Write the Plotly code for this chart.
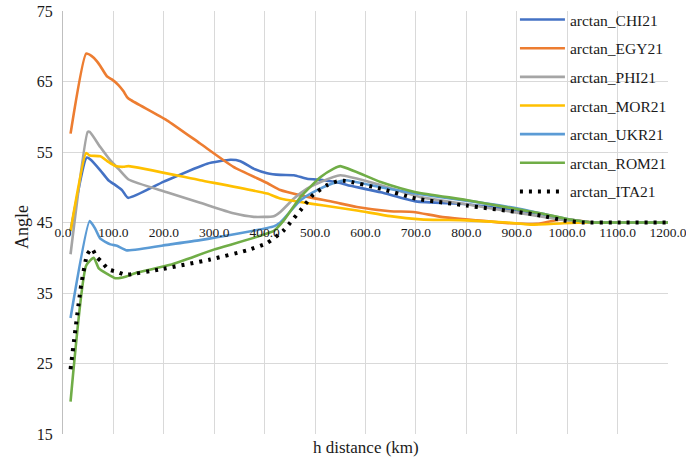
import plotly.graph_objects as go

# ---- data ----
CHI_x = [15, 47, 55, 74, 90, 104, 117, 129, 200, 286, 332, 352, 378, 405, 431, 458, 484, 517, 550, 570, 630, 700, 800, 900, 947, 1000, 1050, 1100, 1150, 1200]
CHI_y = [43.8, 54.2, 53.9, 52.4, 51.0, 50.3, 49.6, 48.5, 50.8, 53.35, 53.9, 53.7, 52.65, 52.0, 51.75, 51.7, 51.2, 51.0, 50.6, 50.2, 49.3, 48.0, 47.6, 46.7, 46.2, 45.4, 45.0, 45.0, 45.0, 45.0]

EGY_x = [15, 46, 57, 67, 74, 87, 97, 110, 120, 127, 134, 206, 272, 338, 405, 431, 471, 537, 583, 649, 695, 750, 821, 887, 940, 980, 1000, 1050, 1100, 1200]
EGY_y = [57.6, 68.95, 68.6, 67.9, 67.2, 65.75, 65.3, 64.5, 63.6, 62.8, 62.4, 59.5, 56.2, 52.9, 50.6, 49.6, 48.85, 47.9, 47.2, 46.6, 46.5, 45.8, 45.3, 44.9, 44.8, 45.35, 45.45, 45.0, 45.0, 45.0]

PHI_x = [15, 49, 53, 74, 94, 110, 130, 206, 272, 338, 378, 418, 431, 458, 484, 511, 550, 630, 709, 800, 900, 1000, 1050, 1100, 1200]
PHI_y = [40.5, 57.85, 57.85, 55.7, 53.8, 52.6, 51.1, 49.3, 47.8, 46.3, 45.8, 45.9, 46.5, 48.4, 49.8, 50.75, 51.7, 50.3, 48.6, 47.6, 46.4, 45.3, 45.0, 45.0, 45.0]

MOR_x = [15, 46, 53, 74, 90, 104, 120, 130, 272, 405, 431, 471, 517, 583, 649, 709, 800, 880, 927, 993, 1050, 1100, 1200]
MOR_y = [43.8, 54.85, 54.5, 54.4, 53.6, 53.0, 52.9, 53.0, 51.0, 49.1, 48.4, 47.9, 47.4, 46.7, 45.9, 45.45, 45.3, 45.0, 44.7, 44.9, 45.0, 45.0, 45.0]

UKR_x = [15, 53, 64, 74, 94, 107, 127, 213, 272, 418, 431, 471, 504, 537, 560, 630, 700, 800, 900, 947, 1000, 1050, 1100, 1200]
UKR_y = [31.45, 45.2, 44.1, 42.7, 41.9, 41.7, 41.05, 41.9, 42.5, 44.45, 45.0, 48.15, 49.6, 50.6, 51.0, 50.0, 49.1, 48.1, 47.0, 46.3, 45.5, 45.0, 45.0, 45.0]

ROM_x = [15, 46, 61, 71, 87, 104, 124, 147, 213, 299, 418, 438, 471, 511, 537, 550, 630, 700, 800, 900, 947, 1000, 1050, 1100, 1200]
ROM_y = [19.6, 38.9, 40.0, 38.5, 37.75, 37.1, 37.3, 37.9, 39.0, 41.15, 43.8, 45.3, 48.6, 51.45, 52.65, 53.0, 50.75, 49.3, 48.2, 46.9, 46.3, 45.5, 45.0, 45.0, 45.0]

ITA_x = [15, 36, 48, 57, 67, 77, 90, 107, 124, 193, 292, 365, 405, 428, 438, 451, 474, 497, 524, 544, 560, 630, 700, 800, 900, 947, 993, 1030, 1100, 1200]
ITA_y = [24.2, 36.1, 40.45, 41.3, 40.1, 39.4, 38.35, 38.0, 37.6, 38.35, 39.75, 41.05, 42.1, 43.3, 43.9, 45.0, 47.0, 49.0, 50.3, 50.85, 50.9, 49.8, 48.4, 47.4, 46.5, 46.0, 45.3, 45.0, 45.0, 45.0]

series = [
    ("arctan_CHI21", CHI_x, CHI_y, "#4472C4", "solid"),
    ("arctan_EGY21", EGY_x, EGY_y, "#ED7D31", "solid"),
    ("arctan_PHI21", PHI_x, PHI_y, "#A5A5A5", "solid"),
    ("arctan_MOR21", MOR_x, MOR_y, "#FFC000", "solid"),
    ("arctan_UKR21", UKR_x, UKR_y, "#5B9BD5", "solid"),
    ("arctan_ROM21", ROM_x, ROM_y, "#70AD47", "solid"),
    ("arctan_ITA21", ITA_x, ITA_y, "#000000", "3px,6px"),
]

FONT = "Liberation Serif"

fig = go.Figure()
for name, xs, ys, col, dash in series:
    fig.add_trace(go.Scatter(
        x=xs, y=ys, mode="lines", name=name, legendgroup=name,
        line=dict(color=col, width=2.6 if dash == "solid" else 4, dash=dash,
                  shape="spline", smoothing=0.5),
    ))

fig.update_layout(
    width=686, height=457,
    margin=dict(l=63, r=18, t=11, b=23, autoexpand=False),
    paper_bgcolor="white", plot_bgcolor="white",
    font=dict(family=FONT, color="#1a1a1a"),
    showlegend=True,
    legend=dict(
        x=0.747, y=1.019, xanchor="left", yanchor="top",
        bgcolor="rgba(0,0,0,0)", font=dict(family=FONT, size=15.5, color="#1a1a1a"),
        tracegroupgap=5.5, itemwidth=45,
    ),
    xaxis=dict(
        range=[0, 1200], dtick=100, tick0=0, tickformat=".1f",
        anchor="free", position=0.5, automargin=False,
        showgrid=True, gridcolor="#D9D9D9", gridwidth=1,
        zeroline=False, showline=False, ticks="",
        ticklabeloverflow="allow",
        tickfont=dict(family=FONT, size=13.5, color="#1a1a1a"),
    ),
    yaxis=dict(
        range=[15, 75], dtick=10, tick0=15, automargin=False,
        showgrid=True, gridcolor="#D9D9D9", gridwidth=1,
        zeroline=False, showline=True, linecolor="#BFBFBF", linewidth=1,
        ticks="", ticklabelstandoff=6,
        tickfont=dict(family=FONT, size=16, color="#1a1a1a"),
    ),
    annotations=[
        dict(text="h distance (km)", xref="paper", yref="paper", x=0.5, y=-0.031,
             xanchor="center", yanchor="middle", showarrow=False,
             font=dict(family=FONT, size=17, color="#1a1a1a")),
        dict(text="Angle", xref="paper", yref="paper", x=-0.069, y=0.49,
             xanchor="center", yanchor="middle", showarrow=False, textangle=-90,
             font=dict(family=FONT, size=18, color="#1a1a1a")),
    ],
)

fig.write_html("out.html")
